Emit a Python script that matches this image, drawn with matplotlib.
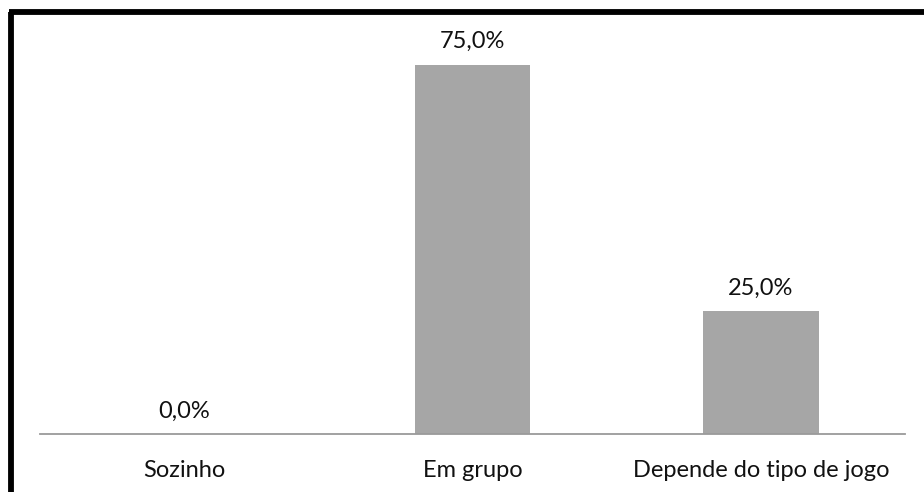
import matplotlib
matplotlib.use("Agg")
import matplotlib.pyplot as plt
from matplotlib.lines import Line2D

categories = ["Sozinho", "Em grupo", "Depende do tipo de jogo"]
values = [0.0, 75.0, 25.0]
value_labels = ["0,0%", "75,0%", "25,0%"]

W, H = 924, 492
fig = plt.figure(figsize=(W / 100, H / 100), dpi=100)
plt.rcParams['font.family'] = ['Lato', 'DejaVu Sans']

# axes placed in pixel coordinates
left, right = 40, 905
base, top = 434, 40
ax = fig.add_axes([left / W, 1 - base / H, (right - left) / W, (base - top) / H])

x = range(len(categories))
ax.bar(x, values, width=0.4, color="#a6a6a6", zorder=2)
ax.set_xlim(-0.5, 2.5)
ax.set_ylim(0, 80)

for i, (v, lab) in enumerate(zip(values, value_labels)):
    ax.annotate(lab, (i, v), xytext=(0, 9), textcoords="offset points",
                ha="center", va="bottom", fontsize=17, color="#111111")

ax.set_xticks(list(x))
ax.set_xticklabels(categories, fontsize=17, color="#111111")
ax.tick_params(axis="x", length=0, pad=19)
ax.set_yticks([])
for s in ["top", "right", "left"]:
    ax.spines[s].set_visible(False)
ax.spines["bottom"].set_color("#9a9a9a")
ax.spines["bottom"].set_linewidth(1.3)

# frame: thick black border on top and left
fig.add_artist(Line2D([10.5 / W, 10.5 / W], [0, 1 - 11.5 / H], transform=fig.transFigure,
                      color="black", linewidth=4.2, solid_capstyle="butt"))
fig.add_artist(Line2D([8.5 / W, 1], [1 - 11.5 / H, 1 - 11.5 / H], transform=fig.transFigure,
                      color="black", linewidth=4.2, solid_capstyle="butt"))

fig.savefig("out.png", dpi=100)
